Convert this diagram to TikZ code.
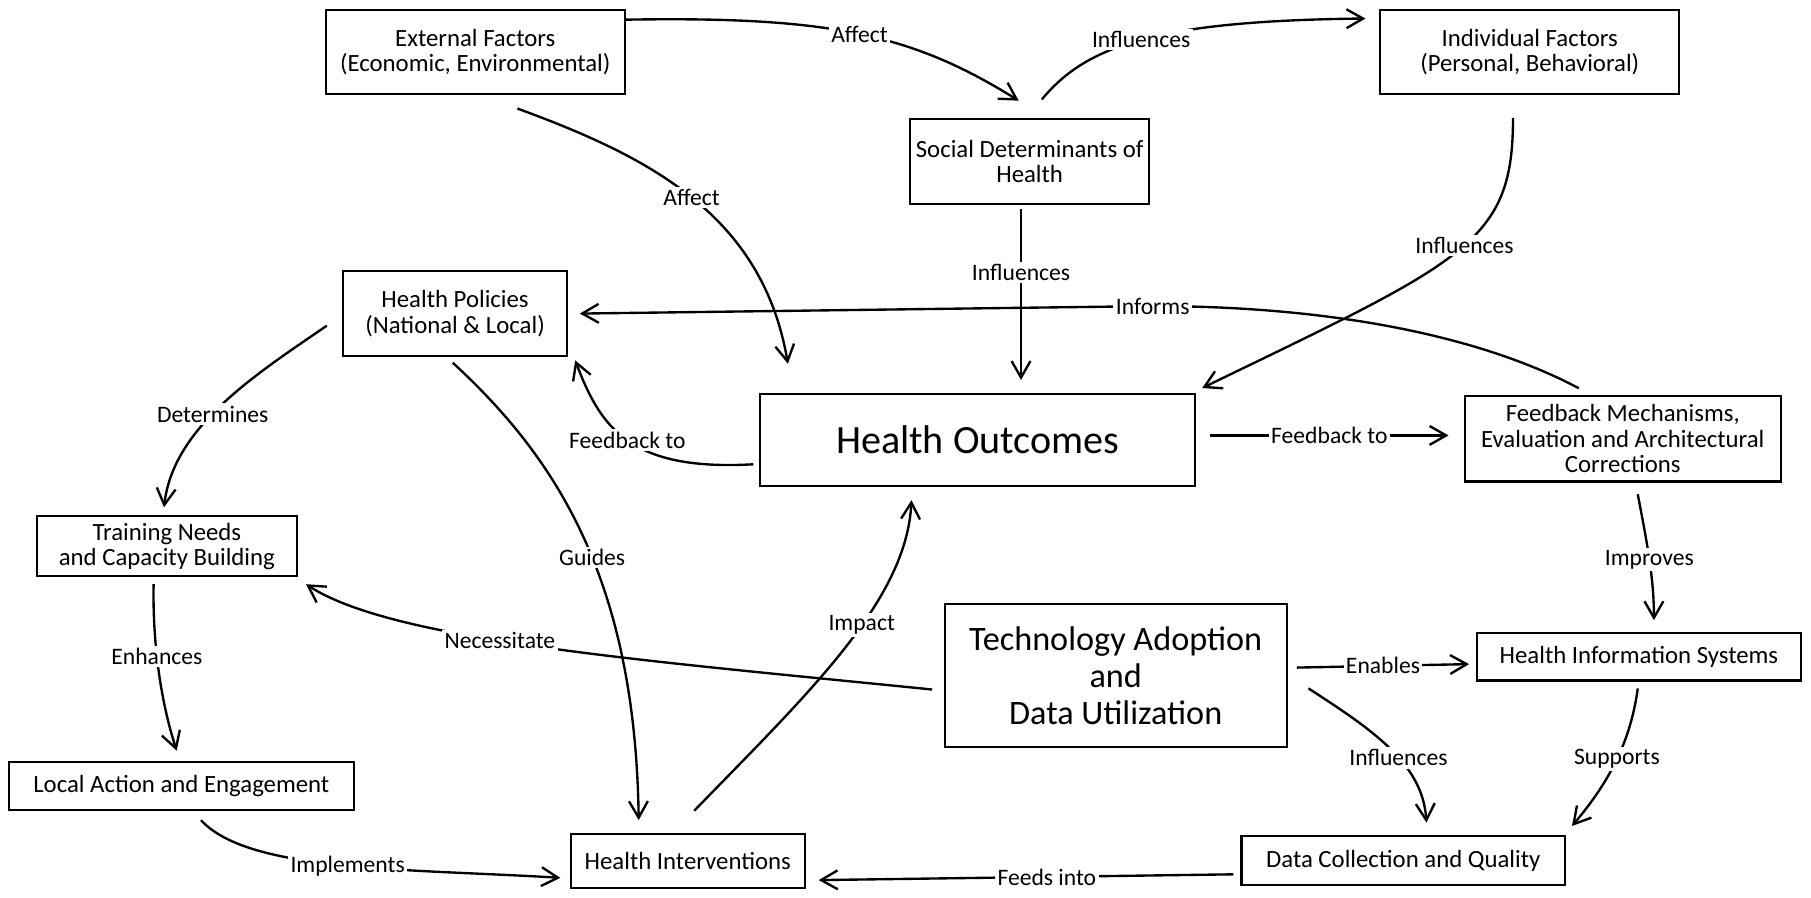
\documentclass[tikz,border=0pt]{standalone}
\usepackage{fontspec}
\setmainfont{Carlito}
\usepackage{tikz}
\usetikzlibrary{arrows.meta,calc}

\begin{document}
\begin{tikzpicture}[x=0.0172cm,y=-0.0172cm,
  box/.style={draw,rectangle,line width=0.9pt,fill=white,align=center,inner sep=1.5pt,font=\fontsize{10.5}{10.8}\selectfont},
  bigbox/.style={box,font=\fontsize{17}{18}\selectfont},
  link/.style={line width=1pt,-{Straight Barb[length=7pt,width=8pt]}},
  lbl/.style={fill=white,inner sep=1pt,font=\fontsize{10}{11}\selectfont}]
\useasboundingbox (0,0) rectangle (1568,777);

\node[box,minimum width=4.45cm,minimum height=1.24cm] (ext) at (411.5,45) {External Factors\\(Economic, Environmental)};
\node[box,minimum width=3.56cm,minimum height=1.27cm] (sdh) at (891.5,140) {Social Determinants of\\Health};
\node[box,minimum width=4.45cm,minimum height=1.24cm] (ind) at (1324.5,45) {Individual Factors\\(Personal, Behavioral)};
\node[box,minimum width=3.34cm,minimum height=1.26cm] (pol) at (394,271.5) {Health Policies\\(National \& Local)};
\node[bigbox,minimum width=6.48cm,minimum height=1.38cm] (out) at (846.5,381) {Health Outcomes};
\node[box,minimum width=4.71cm,minimum height=1.27cm] (fbm) at (1405,380) {Feedback Mechanisms,\\Evaluation and Architectural\\Corrections};
\node[box,minimum width=3.87cm,minimum height=0.89cm] (trn) at (144.5,473) {Training Needs\\and Capacity Building};
\node[bigbox,font=\fontsize{14.5}{15.6}\selectfont,minimum width=5.09cm,minimum height=2.13cm] (tech) at (966,585) {Technology Adoption\\and\\Data Utilization};
\node[box,minimum width=4.82cm,minimum height=0.71cm] (his) at (1419,568.5) {Health Information Systems};
\node[box,minimum width=5.13cm,minimum height=0.71cm] (loc) at (157,680.5) {Local Action and Engagement};
\node[box,minimum width=3.49cm,minimum height=0.81cm] (hint) at (595.5,745.5) {Health Interventions};
\node[box,minimum width=4.82cm,minimum height=0.72cm] (dcq) at (1215,745) {Data Collection and Quality};

\draw[link] ($(ext.north east)+(0,9)$) .. controls (720,14) and (790,30) .. node[lbl,pos=0.5]{Affect} ($(sdh.north)+(-9.5,-15)$);
\draw[link] ($(sdh.north)+(10.5,-16)$) .. controls (940,40) and (1000,18) .. node[lbl,pos=0.5]{Influences} ($(ind.north west)+(-12,8)$);
\draw[link] ($(ext.south)+(36.5,12)$) .. controls (560,135) and (660,185) .. node[lbl,pos=0.5]{Affect} ($(out.north west)+(25,-25)$);
\draw[link] ($(sdh.south)+(-7.5,3)$) -- node[lbl,pos=0.37]{Influences} ($(out.north)+(37.5,-11)$);
\draw[link] ($(ind.south)+(-14.5,20)$) .. controls (1310,210) and (1270,225) .. node[lbl,pos=0.47]{Influences} ($(out.north east)+(5,-4)$);
\draw[link] ($(fbm.north)+(-38,-6)$) .. controls (1280,290) and (1150,265) .. (998,265) node[lbl]{Informs} -- ($(pol.east)+(10,0)$);
\draw[link] ($(out.west)+(-5,21)$) .. controls (545,408) and (520,370) .. node[lbl,pos=0.5]{Feedback to} ($(pol.south east)+(6,3)$);
\draw[link] ($(out.east)+(12,-4)$) -- node[lbl]{Feedback to} ($(fbm.west)+(-13,-3)$);
\draw[link] ($(pol.west)+(-13,10.5)$) .. controls (220,325) and (150,370) .. node[lbl,pos=0.55]{Determines} ($(trn.north)+(-2.5,-7)$);
\draw[link] ($(pol.south)+(-2,5)$) .. controls (480,395) and (550,500) .. node[lbl,pos=0.55]{Guides} ($(hint.north)+(-42.5,-11)$);
\draw[link] ($(trn.south)+(-11.5,6)$) .. controls (132,560) and (140,610) .. node[lbl,pos=0.4]{Enhances} ($(loc.north)+(-4,-9)$);
\draw[link] ($(loc.south)+(17,8)$) .. controls (215,755) and (350,752) .. node[lbl,pos=0.52]{Implements} ($(hint.west)+(-8,14.5)$);
\draw[link] ($(tech.west)+(-10,12)$) .. controls (560,572) and (340,555) .. node[lbl,pos=0.57]{Necessitate} ($(trn.south east)+(7,6)$);
\draw[link] ($(hint.north)+(5.5,-19)$) .. controls (700,600) and (785,520) .. node[lbl,pos=0.58]{Impact} ($(out.south west)+(132,11)$);
\draw[link] ($(tech.east)+(8,-7)$) -- node[lbl]{Enables} ($(his.west)+(-6,6.5)$);
\draw[link] ($(tech.east)+(18,11)$) .. controls (1185,630) and (1232,660) .. node[lbl,pos=0.58]{Influences} ($(dcq.north)+(20,-11)$);
\draw[link] ($(fbm.south)+(13,10)$) .. controls (1426,470) and (1432,500) .. node[lbl,pos=0.5]{Improves} ($(his.north)+(13,-10)$);
\draw[link] ($(his.south)+(-1,6)$) .. controls (1412,640) and (1395,675) .. node[lbl,pos=0.5]{Supports} ($(dcq.north east)+(5,-8)$);
\draw[link] ($(dcq.west)+(-6,12)$) -- node[lbl,pos=0.45]{Feeds into} ($(hint.east)+(11,16.5)$);
\end{tikzpicture}
\end{document}
